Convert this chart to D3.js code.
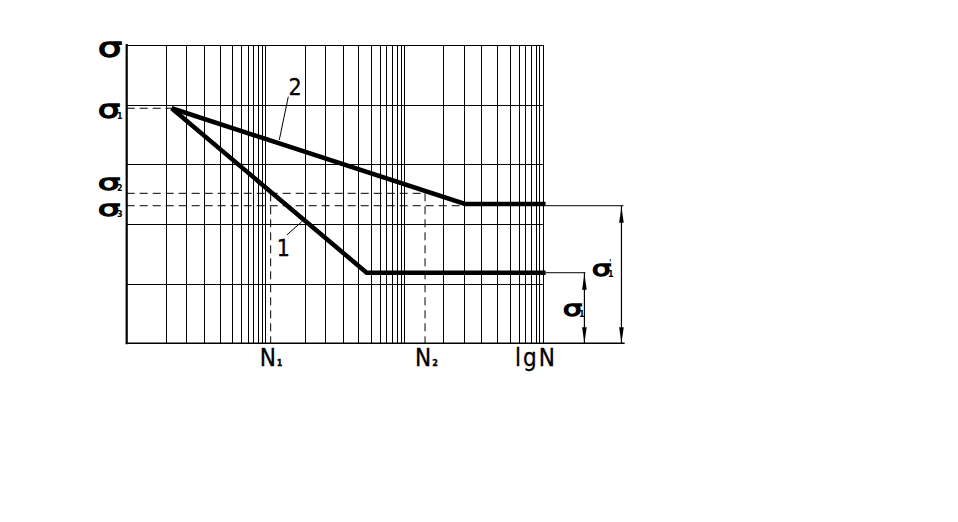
<!DOCTYPE html>
<html><head><meta charset="utf-8">
<script src="https://cdn.jsdelivr.net/npm/d3@7"></script>
<style>body{margin:0;background:#fff}svg{display:block}</style>
</head><body><svg id="c" width="958" height="522"></svg>
<script>
// ---- data (x in lgN decades, y in stress grid units) ----
const decades = [0, 1, 2];
const gridFractions = [0.282, 0.429, 0.558, 0.671, 0.762, 0.827, 0.871, 0.913, 0.950, 0.975, 1.0];
const gridY = [1, 2, 3, 4, 5];
const curve1 = [{x: 0.324, y: 3.94}, {x: 1.730, y: 1.183}, {x: 3.02, y: 1.183}];
const curve2 = [{x: 0.324, y: 3.94}, {x: 2.439, y: 2.335}, {x: 3.02, y: 2.335}];
const sigmaLevels = [3.94, 2.514, 2.306];          // σ1, σ2, σ3
const nLevels = [1.038, 2.151];                    // N1, N2
const dimX = [3.30, 3.567];                        // dimension lines for σ1 (curve 1) and σ'1 (curve 2)
const axisEnd = 3.59;
const leader2 = [{x: 1.165, y: 4.133}, {x: 1.100, y: 3.408}];
const leader1 = [{x: 1.154, y: 1.815}, {x: 1.262, y: 2.038}];

const svg = d3.select("#c");
const x = d3.scaleLinear().domain([0, 3]).range([126.7, 542.8]);
const y = d3.scaleLinear().domain([0, 5]).range([343.3, 45]);

const g = svg.append("g");
const narrow = "'Liberation Sans Narrow','DejaVu Sans Condensed','Arial Narrow',sans-serif";
const sigFont = "'DejaVu Sans',sans-serif";

// vertical grid
const vx = decades.flatMap(d => gridFractions.map(f => d + f));
g.selectAll(".vg").data(vx).join("line")
  .attr("x1", d => Math.round(x(d)) + 0.5).attr("x2", d => Math.round(x(d)) + 0.5)
  .attr("y1", y(5)).attr("y2", y(0))
  .attr("stroke", "#000").attr("stroke-width", 1);
// horizontal grid
g.selectAll(".hg").data(gridY).join("line")
  .attr("x1", x(0)).attr("x2", x(3))
  .attr("y1", d => Math.round(y(d)) + 0.5).attr("y2", d => Math.round(y(d)) + 0.5)
  .attr("stroke", "#000").attr("stroke-width", 1.2);

// axes
g.append("line").attr("x1", x(0)).attr("x2", x(0)).attr("y1", y(5) - 1).attr("y2", y(0) + 1)
  .attr("stroke", "#000").attr("stroke-width", 2.2);
g.append("line").attr("x1", x(0) - 1).attr("x2", x(axisEnd)).attr("y1", y(0)).attr("y2", y(0))
  .attr("stroke", "#000").attr("stroke-width", 1.6);

// dashed reference lines
const dash = "8,5";
const dashed = [
  {x1: 0, y1: sigmaLevels[0], x2: curve1[0].x, y2: sigmaLevels[0]},
  {x1: 0, y1: sigmaLevels[1], x2: nLevels[1], y2: sigmaLevels[1]},
  {x1: 0, y1: sigmaLevels[2], x2: curve2[1].x, y2: sigmaLevels[2]},
  {x1: nLevels[0], y1: sigmaLevels[1], x2: nLevels[0], y2: 0},
  {x1: nLevels[1], y1: sigmaLevels[1], x2: nLevels[1], y2: 0}
];
g.selectAll(".dl").data(dashed).join("line")
  .attr("x1", d => x(d.x1)).attr("y1", d => y(d.y1))
  .attr("x2", d => x(d.x2)).attr("y2", d => y(d.y2))
  .attr("stroke", "#000").attr("stroke-width", 1).attr("stroke-dasharray", dash);

// curves
const line = d3.line().x(d => x(d.x)).y(d => y(d.y));
[curve1, curve2].forEach(c => {
  g.append("path").attr("d", line(c)).attr("fill", "none")
    .attr("stroke", "#000").attr("stroke-width", 4.5).attr("stroke-linejoin", "miter");
});

// leader lines
[leader1, leader2].forEach(l => {
  g.append("path").attr("d", line(l)).attr("fill", "none").attr("stroke", "#000").attr("stroke-width", 1);
});
g.append("text").attr("x", x(1.214)).attr("y", y(4.16)).attr("text-anchor", "middle")
  .attr("font-family", narrow).attr("font-size", 23).attr("stroke", "#000").attr("stroke-width", 0.3).text("2");
g.append("text").attr("x", x(1.13)).attr("y", y(1.47)).attr("text-anchor", "middle")
  .attr("font-family", narrow).attr("font-size", 23).attr("stroke", "#000").attr("stroke-width", 0.3).text("1");

// dimension extension lines
g.append("line").attr("x1", x(3.02)).attr("x2", x(dimX[1]) + 2).attr("y1", y(sigmaLevels[2])).attr("y2", y(sigmaLevels[2]))
  .attr("stroke", "#000").attr("stroke-width", 1);
g.append("line").attr("x1", x(3.02)).attr("x2", x(dimX[0]) + 1).attr("y1", y(curve1[2].y)).attr("y2", y(curve1[2].y))
  .attr("stroke", "#000").attr("stroke-width", 1);

// dimension lines with arrows
const dims = [{x: dimX[1], top: sigmaLevels[2]}, {x: dimX[0], top: curve1[2].y}];
dims.forEach(d => {
  const px = x(d.x), t = y(d.top), b = y(0);
  g.append("line").attr("x1", px).attr("x2", px).attr("y1", t).attr("y2", b)
    .attr("stroke", "#000").attr("stroke-width", 1.2);
  g.append("path").attr("d", `M${px},${t + 1} L${px - 2.3},${t + 17} L${px + 2.3},${t + 17} Z`).attr("fill", "#000");
  g.append("path").attr("d", `M${px},${b} L${px - 2.3},${b - 16} L${px + 2.3},${b - 16} Z`).attr("fill", "#000");
});

// sigma labels
function sigma(px, py, size, width, sub, sup, subSize) {
  g.append("text").attr("x", px).attr("y", py).attr("font-family", sigFont)
    .attr("font-size", size).attr("textLength", width).attr("lengthAdjust", "spacingAndGlyphs")
    .attr("stroke", "#000").attr("stroke-width", 1.3).text("σ");
  if (sup) g.append("text").attr("x", px + width - 2).attr("y", py - size * 0.5)
    .attr("font-family", sigFont).attr("font-weight", "bold").attr("font-size", subSize).text(sup);
  if (sub) g.append("text").attr("x", px + width - 3).attr("y", py + 1)
    .attr("font-family", sigFont).attr("font-weight", "bold").attr("font-size", subSize).text(sub);
}
sigma(98, 57, 26, 24, null, null, 8);
sigma(98, 118, 25, 22, "1", null, 8);
sigma(98, 190, 21.5, 22, "2", null, 8);
sigma(98, 216, 21.5, 22, "3", null, 8);
sigma(592, 276, 21, 19, "1", "'", 8);
sigma(563, 316, 21, 19, "1", null, 8);

// bottom labels
function nLabel(px, txt, sub) {
  const t = g.append("text").attr("x", px).attr("y", 366).attr("font-family", narrow).attr("font-size", 24)
    .attr("stroke", "#000").attr("stroke-width", 0.3);
  t.append("tspan").text(txt);
  if (sub) t.append("tspan").attr("font-size", 9).attr("font-weight", "bold").attr("dx", 1).text(sub);
}
nLabel(x(nLevels[0]) - 11, "N", "1");
nLabel(x(nLevels[1]) - 10, "N", "2");
g.append("text").attr("x", 515).attr("y", 366).attr("font-family", narrow).attr("font-size", 24)
  .attr("stroke", "#000").attr("stroke-width", 0.3)
  .attr("textLength", 40).attr("lengthAdjust", "spacing").text("lgN");
</script></body></html>
